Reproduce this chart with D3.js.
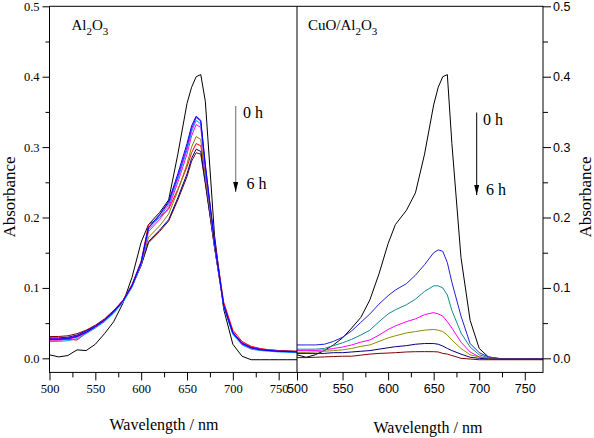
<!DOCTYPE html>
<html><head><meta charset="utf-8">
<script src="https://cdn.jsdelivr.net/npm/d3@7"></script>
<style>
body{margin:0;background:#fff}svg{display:block}
.serif{font-family:"Liberation Serif","Times New Roman","DejaVu Serif",serif !important}
.sans{font-family:"Liberation Sans",Arial,"DejaVu Sans",sans-serif !important}
</style>
</head><body><svg id="c" width="594" height="438"></svg>
<script>
// Wavelength grid (nm)
const wavelengths = [500,510,520,530,540,550,560,570,580,590,600,608,620,630,640,650,655,660,665,670,680,690,700,710,720,730,740,750,760,770];

// Al2O3 panel series (absorbance), 0 h -> 6 h
const al_black  = [.005,.002,.004,.012,.011,.020,.035,.052,.078,.115,.165,.190,.207,.225,.290,.362,.385,.400,.403,.365,.175,.070,.020,.003,-.002,-.002,-.002,-.002,-.002,-.002];
const al_blue   = [.027,.027,.028,.031,.037,.045,.054,.066,.081,.103,.136,.186,.204,.223,.262,.305,.330,.344,.338,.275,.165,.075,.036,.021,.015,.012,.011,.010,.0095,.009];
const al_violet = [.028,.028,.029,.032,.038,.046,.055,.067,.082,.104,.137,.185,.203,.221,.258,.300,.326,.342,.337,.274,.165,.076,.037,.022,.015,.013,.011,.010,.010,.0095];
const al_cyan   = [.024,.024,.025,.028,.035,.043,.052,.064,.079,.101,.134,.183,.200,.218,.255,.296,.322,.338,.333,.270,.163,.073,.034,.019,.013,.011,.010,.009,.0085,.008];
const al_magenta= [.026,.026,.027,.030,.036,.044,.053,.065,.080,.102,.134,.180,.197,.214,.250,.290,.316,.332,.328,.266,.162,.074,.035,.020,.014,.012,.011,.010,.0095,.009];
const al_olive  = [.027,.027,.028,.031,.037,.045,.054,.066,.080,.102,.133,.172,.188,.205,.238,.276,.300,.315,.311,.258,.160,.074,.035,.020,.014,.012,.011,.010,.0095,.009];
const al_navy   = [.029,.029,.030,.033,.039,.046,.055,.067,.081,.102,.132,.166,.182,.197,.228,.262,.284,.297,.294,.250,.158,.075,.036,.021,.015,.012,.011,.010,.010,.0095];
const al_red    = [.026,.026,.027,.026,.036,.045,.055,.067,.082,.105,.138,.190,.200,.212,.240,.272,.292,.305,.302,.262,.168,.080,.040,.024,.017,.014,.012,.011,.0105,.010];
const al_maroon = [.031,.031,.032,.035,.040,.047,.056,.068,.082,.103,.132,.164,.180,.195,.225,.258,.280,.292,.290,.248,.158,.076,.037,.022,.016,.013,.012,.011,.010,.010];

// CuO/Al2O3 panel series
const cu_black  = [.005,.0015,.005,.011,.019,.029,.043,.058,.083,.120,.163,.190,.210,.235,.290,.360,.385,.400,.403,.305,.143,.054,.014,.002,.000,-.001,-.001,-.001,-.001,-.001];
const cu_blue   = [.019,.019,.019,.020,.024,.030,.039,.051,.063,.077,.089,.097,.106,.118,.133,.150,.154,.152,.136,.108,.060,.021,.008,.002,.000,-.001,-.001,-.001,-.001,-.001];
const cu_teal   = [.013,.013,.013,.014,.018,.022,.027,.033,.040,.052,.063,.069,.076,.084,.095,.103,.103,.100,.090,.068,.036,.016,.005,.001,.000,-.001,-.001,-.001,-.001,-.001];
const cu_magenta= [.011,.011,.011,.012,.014,.016,.019,.023,.026,.033,.041,.046,.052,.056,.062,.065,.063,.060,.052,.043,.023,.009,.002,.000,-.001,-.001,-.001,-.001,-.001,-.001];
const cu_olive  = [.0085,.0085,.009,.010,.011,.012,.014,.017,.019,.024,.029,.032,.036,.038,.040,.041,.040,.038,.033,.026,.014,.005,.002,.000,-.001,-.001,-.001,-.001,-.001,-.001];
const cu_navy   = [.007,.007,.007,.007,.008,.008,.009,.010,.011,.013,.015,.0165,.018,.020,.021,.021,.020,.0175,.014,.011,.006,.0015,.000,-.001,-.001,-.001,-.001,-.001,-.001,-.001];
const cu_maroon = [.001,.001,.0015,.002,.0025,.003,.003,.0045,.006,.007,.0075,.008,.009,.0094,.0095,.0094,.009,.007,.006,.004,.000,-.001,-.002,-.002,-.002,-.002,-.002,-.002,-.002,-.002];

const xMajor = [500,550,600,650,700,750];
const xMinor = [525,575,625,675,725];
const yMajor = [0,0.1,0.2,0.3,0.4,0.5];
const yMinor = [0.05,0.15,0.25,0.35,0.45];

const leftSeries = [
  {v: al_black, c:"#000000"}, {v: al_maroon, c:"#800000"}, {v: al_red, c:"#ff0000"},
  {v: al_navy, c:"#000080"}, {v: al_olive, c:"#808000"}, {v: al_magenta, c:"#ff00ff"},
  {v: al_cyan, c:"#00a0ff"}, {v: al_violet, c:"#8000ff"}, {v: al_blue, c:"#0000ff"}
];
const rightSeries = [
  {v: cu_black, c:"#000000"}, {v: cu_blue, c:"#2020e0"}, {v: cu_teal, c:"#108c8c"},
  {v: cu_magenta, c:"#ff00ff"}, {v: cu_olive, c:"#8c8c00"}, {v: cu_navy, c:"#000080"},
  {v: cu_maroon, c:"#800000"}
];

const svg = d3.select("#c");

const y = d3.scaleLinear().domain([-0.02,0.5]).range([372.4,6.3]);
const xL = d3.scaleLinear().domain([500,770]).range([49.5,297]);
const xR = d3.scaleLinear().domain([500,770]).range([297,543]);

function drawLines(x, series) {
  const line = d3.line().x((d,i)=>x(wavelengths[i])).y(d=>y(d));
  svg.append("g").selectAll("path").data(series).join("path")
    .attr("d", s=>line(s.v)).attr("fill","none").attr("stroke", s=>s.c).attr("stroke-width",1);
}
drawLines(xL, leftSeries);
drawLines(xR, rightSeries);

// frame
svg.append("rect").attr("x",49.5).attr("y",6.3).attr("width",543-49.5).attr("height",372.4-6.3)
  .attr("fill","none").attr("stroke","#000").attr("stroke-width",1);
svg.append("line").attr("x1",297).attr("x2",297).attr("y1",6.3).attr("y2",372.4).attr("stroke","#000");

function styleAxis(g, cls, size){
  g.attr("font-family",null).attr("font-size",null);
  g.select(".domain").remove();
  g.selectAll("line").attr("stroke","#000");
  g.selectAll("text").attr("class",cls).style("font-size",size).attr("fill","#000");
}
// bottom axes
[[xL,"serif"],[xR,"sans"]].forEach(([x,f])=>{
  const gM = svg.append("g").attr("transform","translate(0,372.4)")
    .call(d3.axisBottom(x).tickValues(xMajor).tickSize(8).tickPadding(4).tickFormat(d3.format("d")));
  styleAxis(gM,f,"12.5px");
  const gm = svg.append("g").attr("transform","translate(0,372.4)")
    .call(d3.axisBottom(x).tickValues(xMinor).tickSize(5).tickFormat(""));
  styleAxis(gm,f,"12px");
});
// left axis
const gyl = svg.append("g").attr("transform","translate(49.5,0)")
  .call(d3.axisLeft(y).tickValues(yMajor).tickSize(7).tickPadding(3).tickFormat(d3.format(".1f")));
styleAxis(gyl,"serif","12.5px");
const gylm = svg.append("g").attr("transform","translate(49.5,0)")
  .call(d3.axisLeft(y).tickValues(yMinor).tickSize(4).tickFormat(""));
styleAxis(gylm,"serif","12px");
// right axis
const gyr = svg.append("g").attr("transform","translate(543,0)")
  .call(d3.axisRight(y).tickValues(yMajor).tickSize(8).tickPadding(2).tickFormat(d3.format(".1f")));
styleAxis(gyr,"sans","12.5px");
const gyrm = svg.append("g").attr("transform","translate(543,0)")
  .call(d3.axisRight(y).tickValues(yMinor).tickSize(5).tickFormat(""));
styleAxis(gyrm,"sans","12px");

function txt(x,yb,t,size){
  return svg.append("text").attr("x",x).attr("y",yb).attr("class","serif").style("font-size",size).text(t);
}
// axis titles
txt(164,430,"Wavelength / nm","16px").attr("text-anchor","middle");
txt(428,432.5,"Wavelength / nm","16px").attr("text-anchor","middle");
svg.append("text").attr("class","serif").style("font-size","17px").attr("text-anchor","middle")
  .attr("transform","translate(15,197) rotate(-90)").text("Absorbance");
svg.append("text").attr("class","serif").style("font-size","17px").attr("text-anchor","middle")
  .attr("transform","translate(591,197) rotate(-90)").text("Absorbance");

// panel labels with subscripts
function chem(x, yb, parts){
  const t = svg.append("text").attr("x",x).attr("y",yb).attr("class","serif").style("font-size","15px");
  parts.forEach(p=>{
    const ts = t.append("tspan").text(p.t);
    if(p.sub){ ts.attr("dy",5).style("font-size","11px"); }
    else if(p.after){ ts.attr("dy",-5); }
  });
}
chem(71.5,29.5,[{t:"Al"},{t:"2",sub:true},{t:"O",after:true},{t:"3",sub:true}]);
chem(308,29.5,[{t:"CuO/Al"},{t:"2",sub:true},{t:"O",after:true},{t:"3",sub:true}]);

// arrows
svg.append("defs").append("marker").attr("id","ah").attr("viewBox","0 0 10 10")
  .attr("refX",10).attr("refY",5).attr("markerWidth",10).attr("markerHeight",10)
  .attr("markerUnits","userSpaceOnUse").attr("orient","auto")
  .append("path").attr("d","M0,2.5 L10,5 L0,7.5 Z").attr("fill","#000");
svg.append("line").attr("x1",235.7).attr("x2",235.7).attr("y1",106).attr("y2",192)
  .attr("stroke","#808080").attr("stroke-width",1.2).attr("marker-end","url(#ah)");
svg.append("line").attr("x1",476.7).attr("x2",476.7).attr("y1",112.5).attr("y2",195)
  .attr("stroke","#000").attr("stroke-width",1).attr("marker-end","url(#ah)");
[[243,117.5,"0 h"],[246.5,188.5,"6 h"],[483,125,"0 h"],[486,195,"6 h"]].forEach(([x,yb,t])=>{
  txt(x,yb,t,"16px");
});
</script></body></html>
